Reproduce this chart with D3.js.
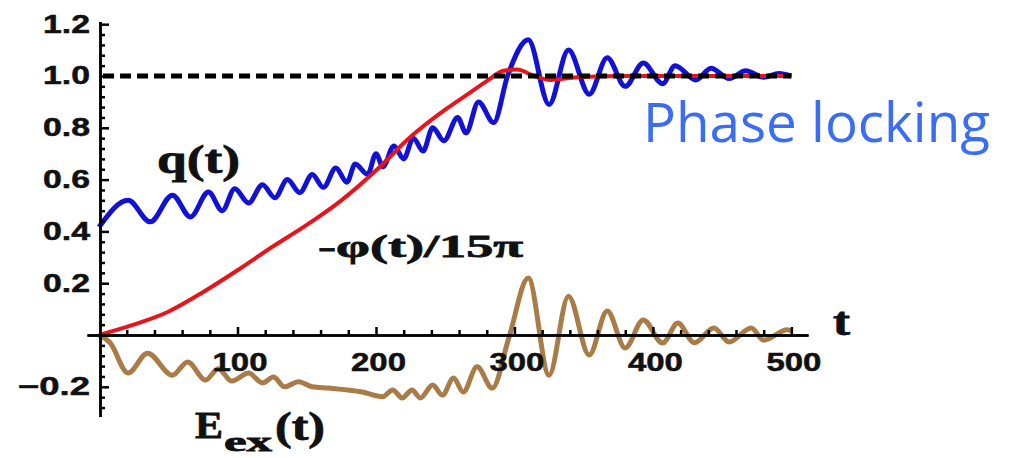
<!DOCTYPE html>
<html><head><meta charset="utf-8">
<script src="https://cdn.jsdelivr.net/npm/d3@7"></script>
<style>body{margin:0;background:#fff}svg{display:block;background:#fff}</style>
</head><body><svg id="c" width="1010" height="458"></svg>
<script>
// q(t) – blue
const qT=[0,21,37,53,66,79,89,98,108,118,127,136,145,154,162,171,179,185,194,200,205,213,220,227,234,241,249,259,265,274,285,295,310,325,339,354,367,380,393,407,416,431,442,455,467,480,491,500];
const qV=[0.417,0.52,0.437,0.54,0.456,0.552,0.48,0.565,0.51,0.58,0.53,0.60,0.55,0.62,0.57,0.645,0.59,0.66,0.62,0.70,0.65,0.73,0.68,0.76,0.71,0.80,0.75,0.84,0.78,0.90,0.82,1.0,1.14,0.89,1.10,0.93,1.07,0.96,1.05,0.97,1.04,0.985,1.03,0.99,1.02,0.995,1.01,1.0];
// -phi(t)/15pi – red
const pT=[0,25,50,75,100,125,150,175,200,225,250,265,280,292,302,314,326,345,380,500];
const pV=[0,0.04,0.09,0.165,0.25,0.34,0.425,0.52,0.635,0.765,0.87,0.925,0.98,1.02,1.025,1.0,0.985,0.995,1.0,1.0];
// E_ex(t) – brown
const eT=[0,8,21,35,53,64,77,86,96,108,118,126,134,144,154,166,190,205,212,219,226,232,241,248,256,263,273,284,296,310,325,339,354,367,380,393,407,418,430,444,455,471,480,497,500];
const eV=[0,-0.03,-0.147,-0.07,-0.155,-0.104,-0.174,-0.13,-0.178,-0.147,-0.185,-0.162,-0.2,-0.18,-0.2,-0.205,-0.22,-0.238,-0.212,-0.243,-0.212,-0.243,-0.193,-0.232,-0.166,-0.22,-0.123,-0.205,-0.01,0.22,-0.155,0.15,-0.077,0.093,-0.05,0.058,-0.031,0.046,-0.03,0.027,-0.027,0.027,-0.02,0.02,0.015];

const yTickValues=[-0.2,0,0.2,0.4,0.6,0.8,1.0,1.2];
const yTickLabels=["\u22120.2","","0.2","0.4","0.6","0.8","1.0","1.2"];
const xTickValues=[100,200,300,400,500];
const xTickLabels=["100","200","300","400","500"];
const lockLevel=1.0;

const svg=d3.select("#c");
const x=d3.scaleLinear().domain([-8.7,512]).range([87,808]);
const y=d3.scaleLinear().domain([-0.315,1.21]).range([416.6,21.6]);

const line=d3.line().x(d=>x(d[0])).y(d=>y(d[1])).curve(d3.curveMonotoneX);
const zip=(a,b)=>a.map((t,i)=>[t,b[i]]);

svg.append("path").datum(zip(eT,eV)).attr("d",line)
  .attr("fill","none").attr("stroke","#a97c47").attr("stroke-width",5).attr("stroke-linejoin","round");
svg.append("path").datum(zip(qT,qV)).attr("d",line)
  .attr("fill","none").attr("stroke","#1212d6").attr("stroke-width",5).attr("stroke-linejoin","round");
svg.append("path").datum(zip(pT,pV)).attr("d",line)
  .attr("fill","none").attr("stroke","#e8141c").attr("stroke-width",4).attr("stroke-linejoin","round");
svg.append("line").attr("x1",x(0)+4).attr("x2",x(500)).attr("y1",y(lockLevel)).attr("y2",y(lockLevel))
  .attr("stroke","#000").attr("stroke-width",5).attr("stroke-dasharray","11,6");

// axes
const minorY=d3.range(-7,31).filter(k=>k%5!==0).map(k=>k*0.04);
const minorX=d3.range(1,25).filter(k=>k%5!==0).map(k=>k*20);
const tickFont=g=>g.selectAll("text").attr("font-family","'Liberation Sans',Arial,sans-serif")
   .attr("font-weight","bold").attr("font-size",25).attr("fill","#111").attr("stroke","#111").attr("stroke-width",0.5);

const gy=svg.append("g").attr("transform","translate(100,0)");
gy.append("g").call(d3.axisLeft(y).tickValues(minorY).tickSize(-5).tickSizeOuter(0).tickFormat(""));
const gyM=gy.append("g").call(d3.axisLeft(y).tickValues(yTickValues).tickSize(-9).tickSizeOuter(0).tickPadding(10)
   .tickFormat((d,i)=>yTickLabels[i]));
gyM.call(tickFont);
gyM.selectAll("text").each(function(d,i){ if(yTickLabels[i]) d3.select(this).attr("textLength",yTickLabels[i].length>3?72:47).attr("lengthAdjust","spacingAndGlyphs");});
gy.selectAll("path.domain").attr("stroke","#000").attr("stroke-width",2.5);
gy.selectAll(".tick line").attr("stroke","#000").attr("stroke-width",2.5);

const gx=svg.append("g").attr("transform","translate(0,"+y(0)+")");
gx.append("g").call(d3.axisBottom(x).tickValues(minorX).tickSize(-5).tickSizeOuter(0).tickFormat(""));
const gxM=gx.append("g").call(d3.axisBottom(x).tickValues(xTickValues).tickSize(-8).tickSizeOuter(0).tickPadding(18)
   .tickFormat((d,i)=>xTickLabels[i]));
gxM.call(tickFont);
gxM.selectAll("text").attr("textLength",55).attr("lengthAdjust","spacingAndGlyphs").attr("dx",2);
gx.selectAll("path.domain").attr("stroke","#000").attr("stroke-width",2.5);
gx.selectAll(".tick line").attr("stroke","#000").attr("stroke-width",2.5);

// labels
const serif=(sel)=>sel.attr("font-family","'Liberation Serif','Times New Roman',serif").attr("font-weight","bold")
  .attr("fill","#111").attr("stroke","#111").attr("stroke-width",0.8).attr("lengthAdjust","spacingAndGlyphs");
svg.append("text").text("q(t)").attr("x",157).attr("y",173).attr("font-size",40).attr("textLength",83).call(serif);
svg.append("text").text("-\u03c6(t)/15\u03c0").attr("x",318).attr("y",257).attr("font-size",32).attr("textLength",205).call(serif);
svg.append("text").text("E").attr("x",195).attr("y",438).attr("font-size",38).attr("textLength",28).call(serif);
svg.append("text").text("ex").attr("x",224).attr("y",451).attr("font-size",28).attr("textLength",48).call(serif);
svg.append("text").text("(t)").attr("x",275).attr("y",440).attr("font-size",40).attr("textLength",50).call(serif);
svg.append("text").text("t").attr("x",833).attr("y",335).attr("font-size",40).attr("textLength",17).call(serif);
svg.append("text").text("Phase locking").attr("x",643).attr("y",142).attr("font-family","'Open Sans',sans-serif")
  .attr("font-size",54).attr("fill","#3b6cf4").attr("textLength",347).attr("lengthAdjust","spacingAndGlyphs");
</script></body></html>
